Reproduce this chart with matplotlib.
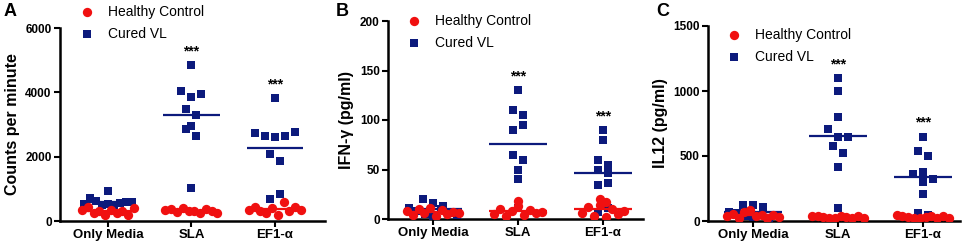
import matplotlib
matplotlib.use("Agg")
import matplotlib.pyplot as plt
import numpy as np

plt.rcParams['font.family'] = ['Liberation Sans', 'DejaVu Sans']

RED = '#f01010'
NAVY = '#0c1a7c'

categories = ['Only Media', 'SLA', 'EF1-\u03b1']
legend_labels = ['Healthy Control', 'Cured VL']

# panel A - proliferation (counts per minute)
cpm_healthy = [[350, 450, 250, 300, 200, 350, 250, 300, 200, 400],
               [330, 380, 280, 400, 300, 320, 260, 360, 300, 240],
               [350, 450, 300, 250, 400, 200, 580, 300, 430, 330]]
cpm_cured = [[520, 720, 620, 930, 500, 520, 480, 550, 600, 580],
             [4850, 4050, 3870, 3940, 3470, 3280, 2960, 2860, 2650, 1030],
             [3820, 2730, 2640, 2600, 2640, 2780, 2080, 1850, 680, 850]]

# panel B - IFN-gamma (pg/ml)
ifn_healthy = [[8, 4, 10, 6, 11, 3, 9, 5, 7, 6],
               [5, 10, 3, 8, 18, 13, 4, 9, 6, 7],
               [6, 12, 3, 14, 20, 17, 2, 10, 5, 8]]
ifn_cured = [[11, 20, 16, 13, 8, 5, 3, 10, 6, 4],
             [130, 110, 105, 90, 95, 65, 60, 49, 40, 11],
             [90, 80, 60, 55, 50, 46, 34, 36, 7, 11]]

# panel C - IL12 (pg/ml)
il12_healthy = [[40, 55, 25, 70, 85, 35, 50, 20, 45, 30],
                [40, 35, 30, 25, 20, 35, 30, 25, 40, 20],
                [45, 35, 30, 25, 20, 30, 35, 25, 40, 20]]
il12_cured = [[123, 120, 105, 70, 60, 40, 30, 50, 20, 45],
              [1100, 1000, 800, 704, 648, 648, 579, 525, 417, 97],
              [648, 538, 500, 361, 302, 320, 379, 208, 59, 45]]

panels = [
    dict(letter='A', healthy=cpm_healthy, cured=cpm_cured, ylabel='Counts per minute',
         ymax=6000, yticks=[0, 2000, 4000, 6000],
         rect=[60, 28, 325, 221], xlim=(-0.575, 2.6), leg=(80, 5), lx=4),
    dict(letter='B', healthy=ifn_healthy, cured=ifn_cured, ylabel='IFN-\u03b3 (pg/ml)',
         ymax=200, yticks=[0, 50, 100, 150, 200],
         rect=[388, 21, 643, 219], xlim=(-0.53, 2.47), leg=(407, 14), lx=336),
    dict(letter='C', healthy=il12_healthy, cured=il12_cured, ylabel='IL12 (pg/ml)',
         ymax=1500, yticks=[0, 500, 1000, 1500],
         rect=[708, 26, 960, 221], xlim=(-0.53, 2.44), leg=(727, 28), lx=656),
]

W, H = 968, 250


def spread(vals, ypu, xpu, dx, dy, half):
    # group points into rows (pixel space) and spread each row sideways
    ys = np.asarray(vals) * ypu
    order = np.argsort(ys, kind='stable')
    rows, cur, start = [], [], None
    for i in order:
        if cur and ys[i] - start >= dy:
            rows.append(cur)
            cur = []
        if not cur:
            start = ys[i]
        cur.append(i)
    rows.append(cur)
    offs = np.zeros(len(vals))
    for row in rows:
        row = sorted(row)
        n = len(row)
        step = dx if n < 2 else min(dx, 2 * half / (n - 1))
        for j, i in enumerate(row):
            offs[i] = (j - (n - 1) / 2) * step / xpu
    return offs


fig = plt.figure(figsize=(W / 100, H / 100), dpi=100)

for p in panels:
    l, t, r, b = p['rect']
    ax = fig.add_axes([l / W, 1 - b / H, (r - l) / W, (b - t) / H])
    ax.set_xlim(*p['xlim'])
    ax.set_ylim(0, p['ymax'])
    ypu = (b - t) / p['ymax']
    xpu = (r - l) / (p['xlim'][1] - p['xlim'][0])

    for i in range(3):
        cv = np.array(p['cured'][i], dtype=float)
        hc = np.array(p['healthy'][i], dtype=float)
        ax.scatter(i + spread(cv, ypu, xpu, 10.0, 8.0, 24), cv, marker='s', s=38, color=NAVY,
                   linewidths=0, zorder=3, label=legend_labels[1] if i == 0 else None)
        ax.hlines(cv.mean(), i - 0.34, i + 0.34, color=NAVY, lw=1.6, zorder=4)
        ax.scatter(i + spread(hc, ypu, xpu, 6.0, 14.0, 26), hc, marker='o', s=45, color=RED,
                   linewidths=0, zorder=5, label=legend_labels[0] if i == 0 else None)
        ax.hlines(hc.mean(), i - 0.34, i + 0.34, color=RED, lw=1.6, zorder=6)
        if i > 0:
            ax.annotate('***', (i, cv.max()), xytext=(0, 10), textcoords='offset points',
                        ha='center', va='center', fontsize=10, fontweight='bold')

    ax.set_xticks(range(3))
    ax.set_xticklabels(categories, fontsize=9.5, fontweight='bold')
    ax.set_yticks(p['yticks'])
    ax.set_yticklabels([str(v) for v in p['yticks']], fontsize=8.5, fontweight='bold')
    ax.set_ylabel(p['ylabel'], fontsize=11.5, fontweight='bold', labelpad=4)
    for s in ['top', 'right']:
        ax.spines[s].set_visible(False)
    for s in ['left', 'bottom']:
        ax.spines[s].set_linewidth(1.8)
    ax.tick_params(width=1.5, length=4, pad=2)

    h, lab = ax.get_legend_handles_labels()
    order = [lab.index(legend_labels[0]), lab.index(legend_labels[1])]
    lx, ly = p['leg']
    ax.legend([h[k] for k in order], [lab[k] for k in order], loc='upper left',
              bbox_to_anchor=(lx / W, 1 - ly / H), bbox_transform=fig.transFigure,
              frameon=False, fontsize=10, handlelength=1, handletextpad=1.0,
              labelspacing=0.55, borderpad=0, borderaxespad=0, markerscale=1.0)

    fig.text(p['lx'] / W, 1 - 12 / H, p['letter'], fontsize=13, fontweight='bold',
             ha='left', va='center')

fig.savefig('out.png', dpi=100)
